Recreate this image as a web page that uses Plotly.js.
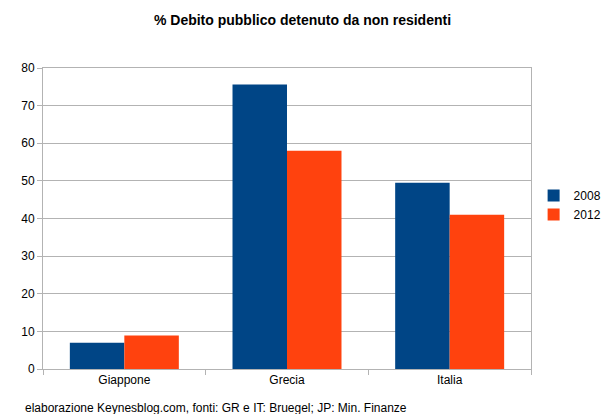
<!DOCTYPE html>
<html><head><meta charset="utf-8">
<script src="https://cdn.plot.ly/plotly-3.0.1.min.js"></script>
<style>body{margin:0;padding:0;background:#fff}#chart{width:605px;height:414px}</style>
</head><body><div id="chart"></div>
<script>
const categories = ["Giappone", "Grecia", "Italia"];
const series2008 = [7.0, 75.6, 49.5];
const series2012 = [8.9, 58.0, 41.0];
const seriesNames = ["2008", "2012"];
const yTicks = [0, 10, 20, 30, 40, 50, 60, 70, 80];

const font = {family: "Liberation Sans, Arial, sans-serif", size: 12, color: "#000"};
const data = [
  {type: "bar", x: categories, y: series2008, name: seriesNames[0], marker: {color: "#004586"}},
  {type: "bar", x: categories, y: series2012, name: seriesNames[1], marker: {color: "#ff420e"}}
];
const layout = {
  width: 605, height: 414,
  margin: {l: 43, r: 74, t: 68, b: 45, autoexpand: false},
  paper_bgcolor: "#fff", plot_bgcolor: "#fff",
  font: font,
  barmode: "group", bargap: 0.33, bargroupgap: 0,
  title: {text: "<b>% Debito pubblico detenuto da non residenti</b>", x: 0.5, xanchor: "center", y: 0.952, yanchor: "middle",
          font: {family: "Liberation Sans, Arial, sans-serif", size: 14, color: "#000"}},
  xaxis: {type: "category", tickson: "boundaries", ticks: "outside", ticklen: 5, tickcolor: "#b3b3b3",
          showline: true, linecolor: "#b3b3b3", mirror: true, showgrid: false, tickfont: font, fixedrange: true},
  yaxis: {range: [0, 80], tickvals: yTicks, ticks: "outside", ticklen: 5, tickcolor: "#b3b3b3",
          showline: true, linecolor: "#b3b3b3", mirror: true, gridcolor: "#b3b3b3", zeroline: false, tickfont: font},
  legend: {xref: "container", yref: "container", x: 0.882, xanchor: "left", y: 0.505, yanchor: "middle",
           font: font, itemwidth: 30, tracegroupgap: 0, bgcolor: "rgba(0,0,0,0)", borderwidth: 0},
  showlegend: true,
  annotations: [{text: "elaborazione Keynesblog.com, fonti: GR e IT: Bruegel; JP: Min. Finanze", xref: "paper", yref: "paper",
                 x: -0.04, xanchor: "left", y: -0.13, yanchor: "middle", showarrow: false, font: font}]
};
Plotly.newPlot("chart", data, layout, {staticPlot: true});
</script></body></html>
